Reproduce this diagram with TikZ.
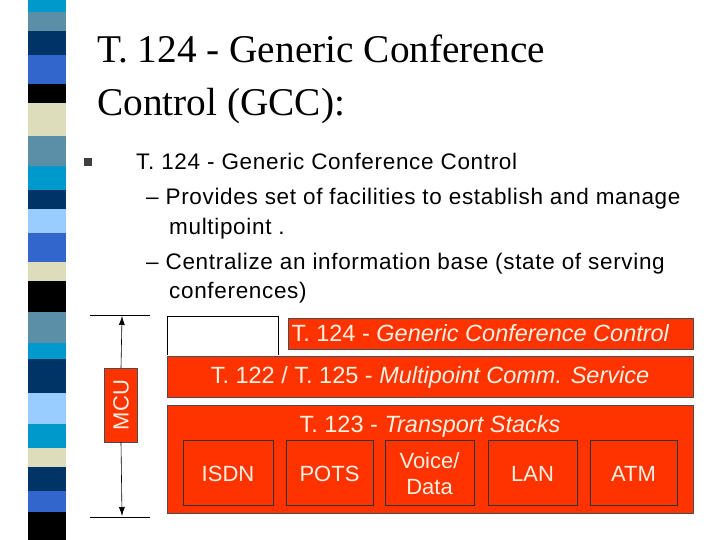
\documentclass[tikz,border=0pt]{standalone}
\usepackage{fontspec}
\usetikzlibrary{arrows.meta}
\setmainfont{Liberation Serif}
\newfontfamily\arial{Liberation Sans}
\newfontfamily\arialw[LetterSpace=3]{Liberation Sans}
\definecolor{rd}{HTML}{FF3300}
\definecolor{tx}{HTML}{FFF0E0}
\definecolor{c1}{HTML}{0099CC}
\definecolor{c2}{HTML}{5B8FA8}
\definecolor{c3}{HTML}{003366}
\definecolor{c4}{HTML}{3366CC}
\definecolor{c5}{HTML}{000000}
\definecolor{c6}{HTML}{DDDDBB}
\definecolor{c7}{HTML}{99CCFF}
\begin{document}
\begin{tikzpicture}[x=1pt,y=-1pt,
  layer/.style={fill=rd,draw=black!70,line width=0.6pt},
  sub/.style={fill=rd,draw=black!80,line width=0.6pt},
  wt/.style={text=tx,font=\arial\fontsize{23.5}{26}\selectfont},
  body/.style={anchor=base west,font=\arialw\fontsize{22.5}{24}\selectfont,inner sep=0}]
\useasboundingbox (0,0) rectangle (720,540);
\fill[white] (0,0) rectangle (720,540);
% stripe
\foreach \a/\b/\c in {0/12/c1,12/31/c2,31/55/c3,55/84/c4,84/103/c5,103/136/c6,136/166/c2,166/190/c1,190/209/c3,209/233/c7,233/262/c4,262/281/c6,281/312/c5,312/343/c2,343/359/c1,359/393/c3,393/424/c7,424/448/c1,448/467/c6,467/491/c3,491/512/c4,512/540/c5}
  \fill[\c] (28,\a) rectangle (66,\b);
% title
\node[anchor=base west,inner sep=0,font=\fontsize{39.3}{40}\selectfont] (t1) at (97,63) {T. 124 - Generic Conference};
\node[anchor=base west,inner sep=0,font=\fontsize{39.3}{40}\selectfont] (t2) at (97,116) {Control (GCC):};
% bullets
\fill[black!75] (84,158) rectangle (92,166);
\node[body] (b1) at (136,170) {T. 124 - Generic Conference Control};
\node[body] (b2) at (146,205) {\textendash{} Provides set of facilities to establish and manage};
\node[body] (b3) at (169,234) {multipoint .};
\node[body] (b4) at (146,269) {\textendash{} Centralize an information base (state of serving};
\node[body] (b5) at (169,298) {conferences)};
% MCU
\coordinate (top) at (122,316);
\coordinate (bot) at (122,516);
\draw[line width=0.6pt] (90,315) -- (150,315);
\draw[line width=0.6pt] (90,517) -- (150,517);
\node[fill=rd,draw=black!70,minimum width=33pt,minimum height=74pt,inner sep=0] (mcu) at (121,405) {};
\node[text=tx,font=\arial\fontsize{22}{22}\selectfont,rotate=90] at (mcu) {MCU};
\draw[-{Latex[length=9pt,width=6pt]},line width=0.6pt] (mcu.north) -- (top);
\draw[-{Latex[length=9pt,width=6pt]},line width=0.6pt] (mcu.south) -- (bot);
% stack
\draw[line width=0.6pt] (167,355) -- (167,316) -- (278,316) -- (278,355);
\draw[layer] (288,318) rectangle (693,349);
\node[wt,anchor=west] (g) at (288,333) {T. 124 - \textit{Generic Conference Control}};
\draw[layer] (167,356) rectangle (693,397);
\node[wt] (m) at (430,377) {T. 122 / T. 125 - \textit{Multipoint Comm. Service}};
\draw[layer] (167,405) rectangle (693,513);
\node[wt] (s) at (430,426) {T. 123 - \textit{Transport Stacks}};
\foreach \n/\x/\w/\t in {isdn/183/273/ISDN,pots/286/373/POTS,vd/385/474/{Voice/\\Data},lan/488/577/LAN,atm/590/677/ATM}{
  \draw[sub] (\x,440) rectangle (\w,505);
  \node[wt,align=center,font=\arial\fontsize{22}{26}\selectfont] (\n) at ({(\x+\w)/2},474) {\t};
}
\end{tikzpicture}
\end{document}
